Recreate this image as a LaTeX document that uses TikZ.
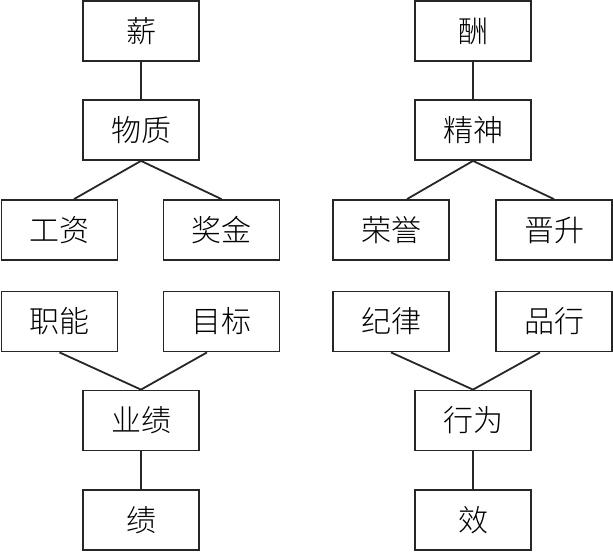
\documentclass[tikz,border=0pt]{standalone}
\usepackage{fontspec}
\newfontfamily\cjk{Noto Sans CJK SC}[UprightFont={* Light}]
\begin{document}
\begin{tikzpicture}[x=1pt,y=-1pt,
  box/.style={draw=black!85,line width=1.8pt,minimum width=116pt,minimum height=60pt,inner sep=0pt,font=\cjk\fontsize{30}{30}\selectfont},
  link/.style={draw=black!85,line width=1.8pt}]
\useasboundingbox (0,0) rectangle (613,552);
% left
\node[box] (xin) at (141,31) {薪};
\node[box] (wz) at (141,130) {物质};
\node[box] (gz) at (59.5,230) {工资};
\node[box] (jj) at (221.5,230) {奖金};
\node[box] (zn) at (59.5,321.5) {职能};
\node[box] (mb) at (221.5,321.5) {目标};
\node[box] (yj) at (141,420.5) {业绩};
\node[box] (ji) at (141,520) {绩};
% right
\node[box] (chou) at (473,31) {酬};
\node[box] (js) at (473,130) {精神};
\node[box] (ry) at (391,230) {荣誉};
\node[box] (js2) at (554,230) {晋升};
\node[box] (jl) at (391,321.5) {纪律};
\node[box] (px) at (554,321.5) {品行};
\node[box] (xw) at (473,420.5) {行为};
\node[box] (xiao) at (473,520) {效};
% links left
\draw[link] (xin.south) -- (wz.north);
\draw[link] (wz.south) -- ([xshift=14.5pt]gz.north);
\draw[link] (wz.south) -- (jj.north);
\draw[link] (zn.south) -- (yj.north);
\draw[link] ([xshift=-14.5pt]mb.south) -- (yj.north);
\draw[link] (yj.south) -- (ji.north);
% links right
\draw[link] (chou.south) -- (js.north);
\draw[link] (js.south) -- ([xshift=16pt]ry.north);
\draw[link] (js.south) -- (js2.north);
\draw[link] (jl.south) -- (xw.north);
\draw[link] ([xshift=-14pt]px.south) -- (xw.north);
\draw[link] (xw.south) -- (xiao.north);
\end{tikzpicture}
\end{document}
